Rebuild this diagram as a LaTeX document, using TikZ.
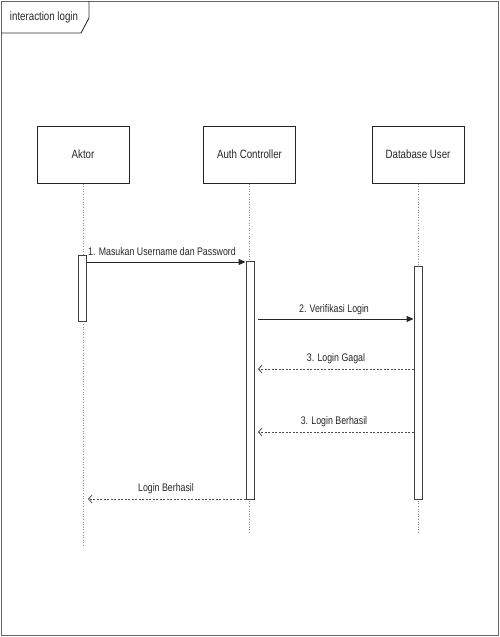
\documentclass[tikz,border=0pt]{standalone}
\usepackage{fontspec}
\setmainfont{Liberation Sans}
\newfontfamily\narrowsans[FakeStretch=0.81]{Liberation Sans}
\newfontfamily\narrowlabel[FakeStretch=0.8]{Liberation Sans}
\usetikzlibrary{arrows.meta}
\begin{document}
\begin{tikzpicture}[x=1pt,y=-1pt,
  lifehead/.style={draw=black!85, line width=1pt, minimum width=92pt, minimum height=57pt,
    inner sep=0pt, font=\narrowsans\fontsize{12}{14}\selectfont, text=black!85},
  activation/.style={draw=black!75, line width=0.9pt, fill=white, minimum width=8pt, inner sep=0pt},
  lifeline/.style={draw=black!45, dotted, line width=0.6pt},
  callmsg/.style={draw=black!85, line width=1pt, -{Triangle[length=7pt,width=6pt]}},
  replymsg/.style={draw=black!70, dash pattern=on 2pt off 1.5pt, line width=0.8pt,
    -{Straight Barb[length=3.5pt,width=8pt]}},
  msglabel/.style={font=\narrowlabel\fontsize{11}{13}\selectfont, text=black!85, inner sep=1pt}]
\useasboundingbox (0,0) rectangle (500,637);

% outer frame with its name tab
\draw[black!60, line width=1pt] (1,1) rectangle (498,635);
\draw[black!80, line width=0.9pt] (1,33) -- (81,33) -- (89,18) -- (89,1);
\node[font=\narrowsans\fontsize{12}{14}\selectfont, text=black!85] (title) at (44,17) {interaction login};

% lifeline heads
\node[lifehead] (aktor) at (83,154.5) {Aktor};
\node[lifehead] (auth) at (249.5,154.5) {Auth Controller};
\node[lifehead] (db) at (418,154.5) {Database User};

% lifeline ends
\coordinate (aktorEnd) at (83,545);
\coordinate (authEnd) at (249.5,532);
\coordinate (dbEnd) at (418,533);
\draw[lifeline] (aktor.south) -- (aktorEnd);
\draw[lifeline] (auth.south) -- (authEnd);
\draw[lifeline] (db.south) -- (dbEnd);

% activation bars
\node[activation, minimum height=66pt] (actA) at (82.5,288) {};
\node[activation, minimum height=238pt] (actB) at (250,380) {};
\node[activation, minimum height=233pt] (actC) at (418,382.5) {};

% message end points
\coordinate (m1s) at (actA.east |- 0,262);
\coordinate (m1e) at (actB.west |- 0,262);
\coordinate (m2s) at (258,319);
\coordinate (m2e) at (actC.west |- 0,319);
\coordinate (r1s) at (actC.west |- 0,369);
\coordinate (r1e) at (258,369);
\coordinate (r2s) at (actC.west |- 0,432);
\coordinate (r2e) at (258,432);
\coordinate (r3s) at (actB.west |- 0,499);
\coordinate (r3e) at (88,499);

% messages
\draw[callmsg] (m1s) -- (m1e);
\node[msglabel, anchor=west] (l1) at (87,251.5) {1. Masukan Username dan Password};
\draw[callmsg] (m2s) -- (m2e);
\node[msglabel] (l2) at (334,309.5) {2. Verifikasi Login};
\draw[replymsg] (r1s) -- (r1e);
\node[msglabel] (l3) at (336,358.5) {3. Login Gagal};
\draw[replymsg] (r2s) -- (r2e);
\node[msglabel] (l4) at (334,421.5) {3. Login Berhasil};
\draw[replymsg] (r3s) -- (r3e);
\node[msglabel] (l5) at (166,488.5) {Login Berhasil};
\end{tikzpicture}
\end{document}
